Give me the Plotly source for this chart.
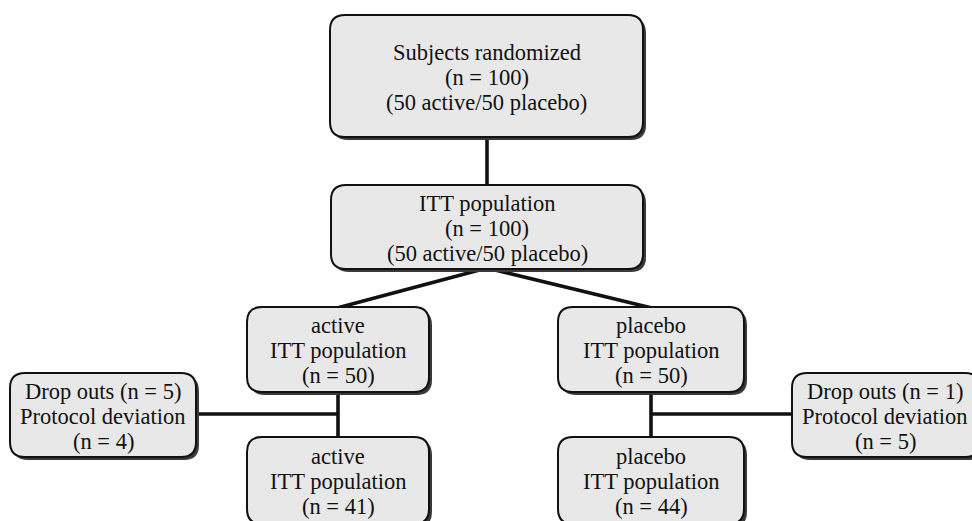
import plotly.graph_objects as go

# ---- content ----
node_names = ["randomized", "itt", "active_itt", "placebo_itt",
              "active_drop", "placebo_drop", "active_final", "placebo_final"]
node_lines = [
    ["Subjects randomized", "(n = 100)", "(50 active/50 placebo)"],
    ["ITT population", "(n = 100)", "(50 active/50 placebo)"],
    ["active", "ITT population", "(n = 50)"],
    ["placebo", "ITT population", "(n = 50)"],
    ["Drop outs (n = 5)", "Protocol deviation", "(n = 4)"],
    ["Drop outs (n = 1)", "Protocol deviation", "(n = 5)"],
    ["active", "ITT population", "(n = 41)"],
    ["placebo", "ITT population", "(n = 44)"],
]

# ---- geometry (pixel-like data coordinates) ----
box_geom = {
    "randomized":   (330, 15, 643, 137),
    "itt":          (331, 185, 643, 269),
    "active_itt":   (247, 307, 429, 392),
    "placebo_itt":  (558, 307, 744, 392),
    "active_drop":  (10, 373, 196, 457),
    "placebo_drop": (792, 373, 980, 457),
    "active_final": (247, 437, 429, 524),
    "placebo_final": (558, 437, 744, 524),
}
text_center_x = {"placebo_drop": 885}

connectors = [
    [(487, 137), (487, 185)],
    [(487, 268), (337, 308)],
    [(487, 268), (652, 308)],
    [(338, 392), (338, 437)],
    [(196, 414), (338, 414)],
    [(651, 392), (651, 437)],
    [(651, 414), (792, 414)],
]

FONT = "Liberation Serif, Times New Roman, serif"
FS = 22.5
LINE_GAP = 25
R = 15


def rr(x0, y0, x1, y1, r):
    return (f"M {x0+r},{y0} L {x1-r},{y0} Q {x1},{y0} {x1},{y0+r} "
            f"L {x1},{y1-r} Q {x1},{y1} {x1-r},{y1} L {x0+r},{y1} "
            f"Q {x0},{y1} {x0},{y1-r} L {x0},{y0+r} Q {x0},{y0} {x0+r},{y0} Z")


fig = go.Figure()

for seg in connectors:
    fig.add_trace(go.Scatter(
        x=[p[0] for p in seg], y=[p[1] for p in seg], mode="lines",
        line=dict(color="#111111", width=3.6), hoverinfo="skip", showlegend=False))

shapes = []
annotations = []
for name, lines in zip(node_names, node_lines):
    x0, y0, x1, y1 = box_geom[name]
    shapes.append(dict(type="path", path=rr(x0 + 3, y0 + 3, x1 + 3, y1 + 3, R),
                       xref="x", yref="y", fillcolor="#3a3a3a",
                       line=dict(width=0), layer="above"))
    shapes.append(dict(type="path", path=rr(x0, y0, x1, y1, R),
                       xref="x", yref="y", fillcolor="#e8e8e8",
                       line=dict(color="#111111", width=2), layer="above"))
    cx = text_center_x.get(name, (x0 + x1) / 2)
    cy = (y0 + y1) / 2 + 1
    n = len(lines)
    for i, t in enumerate(lines):
        annotations.append(dict(
            x=cx, y=cy + (i - (n - 1) / 2) * LINE_GAP, xref="x", yref="y",
            text=t, showarrow=False, xanchor="center", yanchor="middle",
            borderpad=0,
            font=dict(family=FONT, size=FS, color="#111111")))

fig.update_layout(
    width=972, height=521,
    margin=dict(l=0, r=0, t=0, b=0),
    paper_bgcolor="white", plot_bgcolor="white",
    xaxis=dict(range=[0, 972], visible=False, fixedrange=True),
    yaxis=dict(range=[521, 0], visible=False, fixedrange=True),
    shapes=shapes, annotations=annotations, showlegend=False,
)

fig.write_html(
    "out.html",
    config={"displayModeBar": False},
    post_script="document.body.style.margin='0';document.body.style.padding='0';"
                "document.body.style.overflow='hidden';",
)
